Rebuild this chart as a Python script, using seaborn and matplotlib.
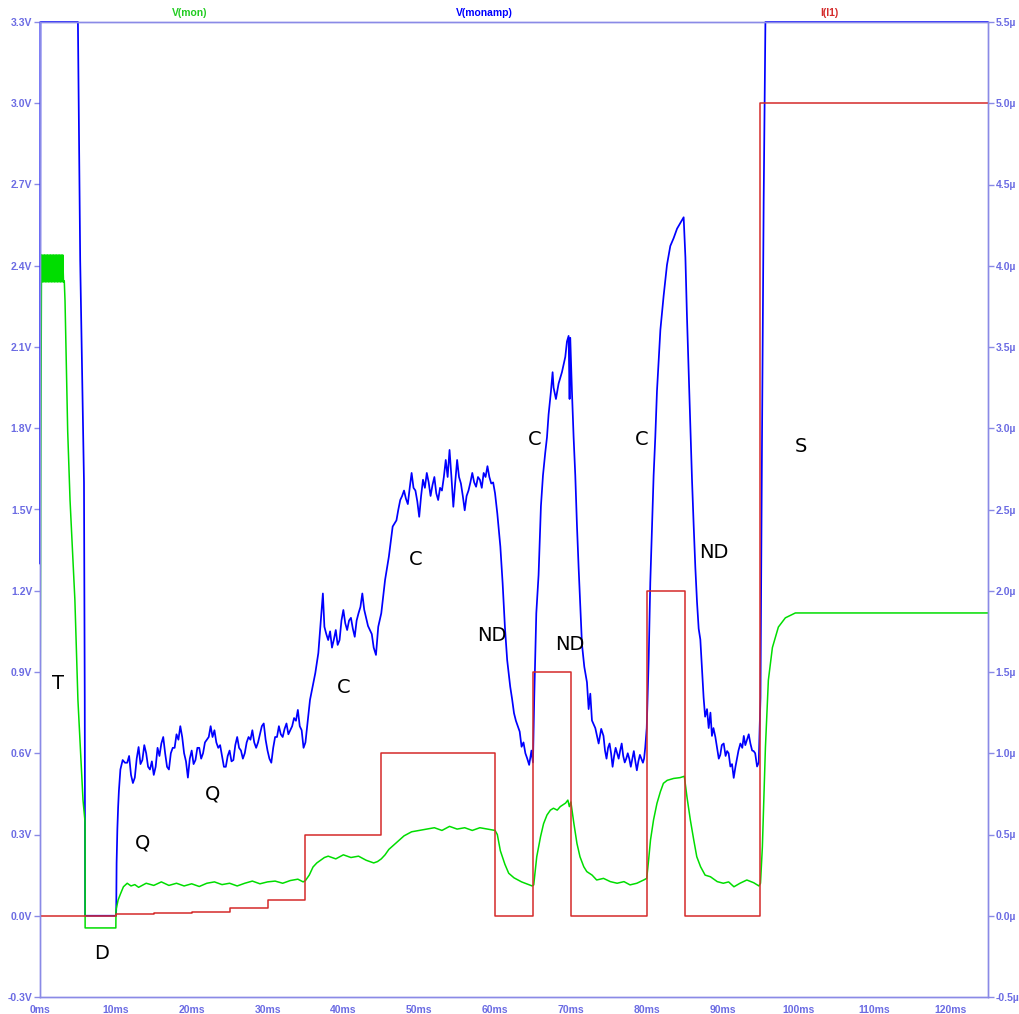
import matplotlib
matplotlib.use("Agg")
import matplotlib.pyplot as plt
import seaborn as sns
import pandas as pd

# ---------------- data ----------------
# V(monamp)  [ms, V]  -- main trace
t_monamp = [0, 0.05, 5.0, 5.3, 5.55, 5.8, 5.9, 5.95, 10.0, 10.05, 10.1, 10.2, 10.3, 10.4, 10.6, 10.9, 11.2, 11.5,
            12, 12.5, 13, 13.5, 14, 14.5, 15, 15.5, 16, 16.5, 17, 17.5, 18, 18.5, 19, 19.5, 20, 20.5,
            21, 21.5, 22, 22.5, 23, 23.5, 24, 24.5, 25, 25.5, 26, 26.5, 27, 27.5, 28, 28.5, 29, 29.5,
            30, 30.5, 31, 31.5, 32, 32.5, 33, 33.5, 34, 34.5, 35.0, 35.6, 36.3, 36.7, 37.3, 37.5, 38, 38.5,
            39, 39.5, 40, 40.5, 41, 41.5, 42, 42.5, 43, 43.5, 44, 44.3, 44.6, 45, 45.5, 46, 46.5, 47,
            47.5, 48, 48.5, 49, 49.5, 50, 50.5, 51, 51.5, 52, 52.5, 53, 53.5, 54, 54.5, 55, 55.5, 56,
            56.5, 57, 57.5, 58, 58.5, 59, 59.5, 60, 60.3, 60.7, 61, 61.3, 61.6, 62, 62.5, 63, 63.5, 64,
            64.5, 64.8, 65.0, 65.17, 65.44, 65.74, 66.05, 66.32, 66.62, 66.85, 67.06, 67.37, 67.59, 67.72,
            68.03, 68.38, 68.82, 69.26, 69.48, 69.7, 69.83, 69.92, 70.14, 70.36, 70.58, 70.8, 71.02, 71.24,
            71.46, 71.77, 72.12, 72.34, 72.56, 72.78, 73.22, 73.66, 74.3, 74.7, 75.1, 75.5, 75.9, 76.3,
            76.7, 77.1, 77.5, 77.9, 78.3, 78.7, 79.1, 79.5, 79.8, 80.0, 80.26, 80.47, 80.7, 80.91, 81.13,
            81.35, 81.57, 81.8, 82.23, 82.67, 83.11, 83.55, 84.0, 84.43, 84.87, 85.1, 85.3, 85.53, 85.75,
            85.97, 86.19, 86.41, 86.63, 86.85, 87.07, 87.3, 87.5, 87.7, 87.95, 88.17, 88.4, 88.6, 88.8,
            89.27, 89.7, 90.15, 90.6, 91.03, 91.47, 91.9, 92.35, 92.8, 93.23, 93.67, 94.1, 94.55, 94.77,
            95.0, 95.2, 95.42, 95.65, 125]
v_monamp = [1.3, 3.3, 3.3, 2.42, 2.0, 1.6, 0.8, 0.0, 0.0, 0.02, 0.195, 0.32, 0.40, 0.46, 0.54, 0.575, 0.565, 0.565,
            0.52, 0.51, 0.623, 0.575, 0.60, 0.54, 0.52, 0.62, 0.636, 0.60, 0.54, 0.62, 0.67, 0.70, 0.60, 0.51, 0.61, 0.575,
            0.62, 0.60, 0.65, 0.70, 0.685, 0.62, 0.59, 0.55, 0.61, 0.575, 0.66, 0.61, 0.60, 0.66, 0.685, 0.62, 0.67, 0.71,
            0.61, 0.565, 0.66, 0.70, 0.66, 0.71, 0.685, 0.73, 0.76, 0.685, 0.64, 0.797, 0.896, 0.97, 1.19, 1.067, 1.018, 0.99,
            1.055, 1.018, 1.129, 1.055, 1.10, 1.03, 1.117, 1.19, 1.10, 1.055, 0.99, 0.963, 1.067, 1.117, 1.24, 1.326, 1.437, 1.46,
            1.535, 1.57, 1.52, 1.635, 1.57, 1.473, 1.61, 1.635, 1.55, 1.62, 1.535, 1.57, 1.683, 1.72, 1.51, 1.683, 1.596, 1.497,
            1.57, 1.635, 1.584, 1.61, 1.635, 1.66, 1.596, 1.56, 1.485, 1.363, 1.228, 1.067, 0.944, 0.846, 0.748, 0.70, 0.624, 0.60,
            0.557, 0.61, 0.566, 0.806, 1.117, 1.258, 1.512, 1.626, 1.71, 1.767, 1.851, 1.936, 2.007, 1.95,
            1.908, 1.965, 2.007, 2.063, 2.12, 2.141, 1.908, 2.134, 1.936, 1.767, 1.626, 1.442, 1.286, 1.145,
            1.003, 0.919, 0.862, 0.763, 0.82, 0.721, 0.693, 0.636, 0.664, 0.58, 0.636, 0.55, 0.62, 0.58,
            0.636, 0.566, 0.60, 0.55, 0.608, 0.537, 0.594, 0.565, 0.62, 0.693, 0.948, 1.23, 1.442, 1.626, 1.767,
            1.936, 2.049, 2.163, 2.289, 2.403, 2.473, 2.502, 2.537, 2.558, 2.579, 2.431, 2.219, 2.007, 1.795,
            1.611, 1.442, 1.286, 1.159, 1.06, 1.02, 0.905, 0.806, 0.735, 0.763, 0.693, 0.75, 0.664, 0.693,
            0.622, 0.594, 0.636, 0.608, 0.551, 0.509, 0.58, 0.636, 0.664, 0.65, 0.636, 0.608, 0.551, 0.566,
            0.806, 1.753, 2.64, 3.3, 3.3]

# V(monamp) -- extra fine-noise samples read between the main samples
t_monamp_fine = [11.75, 12.25, 12.75, 13.25, 13.75, 14.25, 14.75, 15.25, 15.75, 16.25, 16.75, 17.25, 17.75,
                 18.25, 18.75, 19.25, 19.75, 20.25, 20.75, 21.25, 21.75, 22.25, 22.75, 23.25, 23.75, 24.25,
                 24.75, 25.25, 25.75, 26.25, 26.75, 27.25, 27.75, 28.25, 28.75, 29.25, 29.75, 30.25, 30.75,
                 31.25, 31.75, 32.25, 32.75, 33.25, 33.75, 34.25, 34.75,
                 37.75, 38.25, 38.75, 39.25, 39.75, 40.25, 40.75, 41.25, 41.75, 42.25, 42.75, 43.25, 43.75,
                 47.25, 47.75, 48.25, 48.75, 49.25, 49.75, 50.25, 50.75, 51.25, 51.75, 52.25, 52.75, 53.25,
                 53.75, 54.25, 54.75, 55.25, 55.75, 56.25, 56.75, 57.25, 57.75, 58.25, 58.75, 59.25, 59.75,
                 62.25, 62.75, 63.25, 63.75, 64.25,
                 74.0, 74.5, 74.9, 75.3, 75.7, 76.1, 76.5, 76.9, 77.3, 77.7, 78.1, 78.5, 78.9, 79.3, 79.65,
                 89.05, 89.5, 89.9, 90.4, 90.8, 91.25, 91.7, 92.1, 92.6, 93.0, 93.45, 93.9, 94.3]
v_monamp_fine = [0.59, 0.49, 0.58, 0.56, 0.63, 0.55, 0.57, 0.55, 0.59, 0.66, 0.55, 0.60, 0.62,
                 0.65, 0.66, 0.57, 0.58, 0.56, 0.62, 0.58, 0.64, 0.66, 0.66, 0.64, 0.63, 0.55,
                 0.59, 0.57, 0.63, 0.62, 0.58, 0.64, 0.65, 0.64, 0.64, 0.70, 0.65, 0.58, 0.62,
                 0.66, 0.67, 0.69, 0.67, 0.70, 0.72, 0.70, 0.62,
                 1.04, 1.05, 1.02, 1.00, 1.09, 1.08, 1.09, 1.06, 1.09, 1.14, 1.13, 1.07, 1.04,
                 1.50, 1.55, 1.54, 1.58, 1.58, 1.53, 1.55, 1.58, 1.60, 1.59, 1.56, 1.58, 1.62,
                 1.62, 1.62, 1.60, 1.62, 1.55, 1.55, 1.60, 1.60, 1.62, 1.58, 1.62, 1.62, 1.60,
                 0.80, 0.72, 0.68, 0.64, 0.58,
                 0.69, 0.61, 0.62, 0.60, 0.59, 0.60, 0.61, 0.59, 0.58, 0.58, 0.58, 0.57, 0.57, 0.58, 0.58,
                 0.66, 0.58, 0.63, 0.59, 0.60, 0.56, 0.55, 0.61, 0.62, 0.63, 0.67, 0.61, 0.60]

# V(mon)  [ms, V]
t_mon = [0, 0.1, 0.2, 0.3, 0.4, 0.5, 0.6, 0.7, 0.8, 0.9, 1.0, 1.1, 1.2, 1.3, 1.4, 1.5, 1.6, 1.7, 1.8, 1.9,
         2.0, 2.1, 2.2, 2.3, 2.4, 2.5, 2.6, 2.7, 2.8, 2.9, 3.0, 3.1, 3.2, 3.3, 3.43, 3.65, 3.96, 4.6, 5.0,
         5.67, 5.94, 5.95, 10.0, 10.02, 10.3, 10.6, 11.0, 11.5, 12, 12.5, 13, 14, 15, 16, 17, 18, 19, 20,
         21, 22, 23, 24, 25, 26, 27, 28, 29, 30, 31, 32, 33, 34, 34.7, 35, 35.5, 36, 36.5, 37, 37.5, 38,
         39, 40, 41, 42, 43, 44, 44.5, 45, 45.5, 46, 47, 48, 49, 50, 51, 52, 53, 54, 55, 56, 57, 58, 59,
         60, 60.3, 60.7, 61.3, 61.8, 62.5, 63.5, 64.5, 64.9, 65.1, 65.5, 66.0, 66.4, 66.85, 67.3, 67.7,
         68.2, 68.6, 69.3, 69.6, 69.8, 70.0, 70.4, 70.8, 71.2, 71.7, 72.1, 72.8, 73.4, 74.3, 75.2, 76.1,
         77.0, 77.8, 78.7, 79.6, 80.0, 80.25, 80.5, 80.9, 81.35, 81.8, 82.2, 82.7, 83.55, 84.4, 84.96,
         85.3, 85.75, 86.2, 86.6, 87.1, 87.7, 88.4, 89.3, 90.1, 90.8, 91.5, 92.3, 93.2, 94.1, 94.8, 95.0,
         95.25, 95.65, 96.04, 96.57, 97.36, 98.28, 99.6, 125]
v_mon = [0.5, 1.6, 2.44, 2.34, 2.44, 2.34, 2.44, 2.34, 2.44, 2.34, 2.44, 2.34, 2.44, 2.34, 2.44, 2.34, 2.44, 2.34, 2.44, 2.34,
         2.44, 2.34, 2.44, 2.34, 2.44, 2.34, 2.44, 2.34, 2.44, 2.34, 2.44, 2.34, 2.344, 2.27, 2.09, 1.79, 1.535, 1.166, 0.797,
         0.427, 0.346, -0.045, -0.045, 0.021, 0.058, 0.08, 0.107, 0.12, 0.11, 0.115, 0.105, 0.12, 0.112, 0.125, 0.112, 0.12, 0.11, 0.118,
         0.108, 0.12, 0.125, 0.115, 0.12, 0.11, 0.12, 0.128, 0.118, 0.125, 0.128, 0.12, 0.13, 0.135, 0.125, 0.13, 0.15, 0.18, 0.195, 0.205, 0.215, 0.22,
         0.21, 0.225, 0.215, 0.22, 0.205, 0.195, 0.2, 0.21, 0.225, 0.245, 0.27, 0.295, 0.31, 0.315, 0.32, 0.325, 0.315, 0.33, 0.32, 0.325, 0.315, 0.325, 0.32,
         0.315, 0.3, 0.24, 0.19, 0.157, 0.14, 0.125, 0.114, 0.11, 0.114, 0.218, 0.292, 0.34, 0.372, 0.39, 0.397,
         0.39, 0.403, 0.416, 0.427, 0.403, 0.42, 0.34, 0.267, 0.218, 0.181, 0.163, 0.15, 0.132, 0.138, 0.126, 0.12,
         0.126, 0.114, 0.12, 0.132, 0.138, 0.206, 0.28, 0.354, 0.415, 0.458, 0.489, 0.5, 0.507, 0.51, 0.515,
         0.44, 0.354, 0.28, 0.218, 0.181, 0.15, 0.144, 0.126, 0.12, 0.125, 0.107, 0.12, 0.132, 0.122, 0.11, 0.12,
         0.254, 0.62, 0.87, 0.99, 1.066, 1.10, 1.118, 1.118]

# I(I1)  [ms, µA], step-wise
t_i1 = [0, 10, 15, 20, 25, 30, 35, 45, 60, 65, 70, 80, 85, 95, 125]
i_i1 = [0, 0.01, 0.015, 0.025, 0.045, 0.1, 0.5, 1.0, 0, 1.5, 0, 2.0, 0, 5.0, 5.0]

x_ticks = [0, 10, 20, 30, 40, 50, 60, 70, 80, 90, 100, 110, 120]
x_tick_labels = ["0ms", "10ms", "20ms", "30ms", "40ms", "50ms", "60ms", "70ms", "80ms", "90ms", "100ms", "110ms", "120ms"]
v_ticks = [-0.3, 0.0, 0.3, 0.6, 0.9, 1.2, 1.5, 1.8, 2.1, 2.4, 2.7, 3.0, 3.3]
v_tick_labels = ["-0.3V", "0.0V", "0.3V", "0.6V", "0.9V", "1.2V", "1.5V", "1.8V", "2.1V", "2.4V", "2.7V", "3.0V", "3.3V"]
i_ticks = [-0.5, 0.0, 0.5, 1.0, 1.5, 2.0, 2.5, 3.0, 3.5, 4.0, 4.5, 5.0, 5.5]
i_tick_labels = ["-0.5µ", "0.0µ", "0.5µ", "1.0µ", "1.5µ", "2.0µ", "2.5µ", "3.0µ", "3.5µ", "4.0µ", "4.5µ", "5.0µ", "5.5µ"]

# phase annotations: label, time [ms], voltage [V]
ann_labels = ["T", "D", "Q", "Q", "C", "C", "ND", "C", "ND", "C", "ND", "S"]
ann_t = [2.37, 8.18, 13.46, 22.8, 40.0, 49.6, 59.6, 65.2, 69.9, 79.3, 88.8, 100.3]
ann_v = [0.856, -0.141, 0.269, 0.449, 0.841, 1.314, 1.033, 1.757, 1.003, 1.757, 1.343, 1.731]

series_names = ["V(mon)", "V(monamp)", "I(I1)"]

# ---------------- styling ----------------
sns.set_style("white")
plt.rcParams["font.family"] = ["Liberation Sans", "DejaVu Sans"]

AXIS_C = "#8a8ae6"
TICKLAB_C = "#6b6be3"
GREEN = "#00dd00"
BLUE = "#0000ff"
RED = "#d42a2a"

fig = plt.figure(figsize=(10.19, 10.14), dpi=100)
ax = fig.add_axes([40 / 1019, 1 - 997 / 1014, 948 / 1019, 975 / 1014])
ax.set_facecolor("white")

df_amp = pd.concat([pd.DataFrame({"t": t_monamp, "v": v_monamp}),
                    pd.DataFrame({"t": t_monamp_fine, "v": v_monamp_fine})],
                   ignore_index=True).sort_values("t", kind="stable")
df_mon = pd.DataFrame({"t": t_mon, "v": v_mon})
df_i = pd.DataFrame({"t": t_i1, "i": i_i1})

sns.lineplot(data=df_amp, x="t", y="v", ax=ax, color=BLUE, linewidth=1.25,
             estimator=None, sort=False, clip_on=False)
sns.lineplot(data=df_mon, x="t", y="v", ax=ax, color=GREEN, linewidth=1.1,
             estimator=None, sort=False)

ax.set_xlim(0, 125)
ax.set_ylim(-0.3, 3.3)
ax.set_xticks(x_ticks)
ax.set_xticklabels(x_tick_labels)
ax.set_yticks(v_ticks)
ax.set_yticklabels(v_tick_labels)
ax.set_xlabel("")
ax.set_ylabel("")

ax2 = ax.twinx()
sns.lineplot(data=df_i, x="t", y="i", ax=ax2, color=RED, linewidth=1.1,
             estimator=None, sort=False, drawstyle="steps-post")
ax2.set_ylim(-0.5, 5.5)
ax2.set_xlim(0, 125)
ax2.set_yticks(i_ticks)
ax2.set_yticklabels(i_tick_labels)
ax2.set_ylabel("")
ax2.set_xlabel("")

for a in (ax, ax2):
    for s in a.spines.values():
        s.set_color(AXIS_C)
        s.set_linewidth(1.0)
    a.tick_params(axis="both", colors=AXIS_C, labelcolor=TICKLAB_C, labelsize=7.5,
                  length=4, width=1, pad=1.5)
ax.tick_params(axis="x", pad=2)
for lab in ax.get_xticklabels() + ax.get_yticklabels() + ax2.get_yticklabels():
    lab.set_fontweight("bold")

# series titles along the top
title_colors = ["#22cc22", BLUE, RED]
title_x = [0.158, 0.469, 0.833]
for name, c, xx in zip(series_names, title_colors, title_x):
    ax.text(xx, 1.0095, name, transform=ax.transAxes, color=c,
            fontsize=7.5, fontweight="bold", ha="center", va="center")

# phase annotations
for lab, tt, vv in zip(ann_labels, ann_t, ann_v):
    ax.text(tt, vv, lab, color="black", fontsize=14, ha="center", va="center",
            family="DejaVu Sans")

fig.savefig("out.png", dpi=100)
